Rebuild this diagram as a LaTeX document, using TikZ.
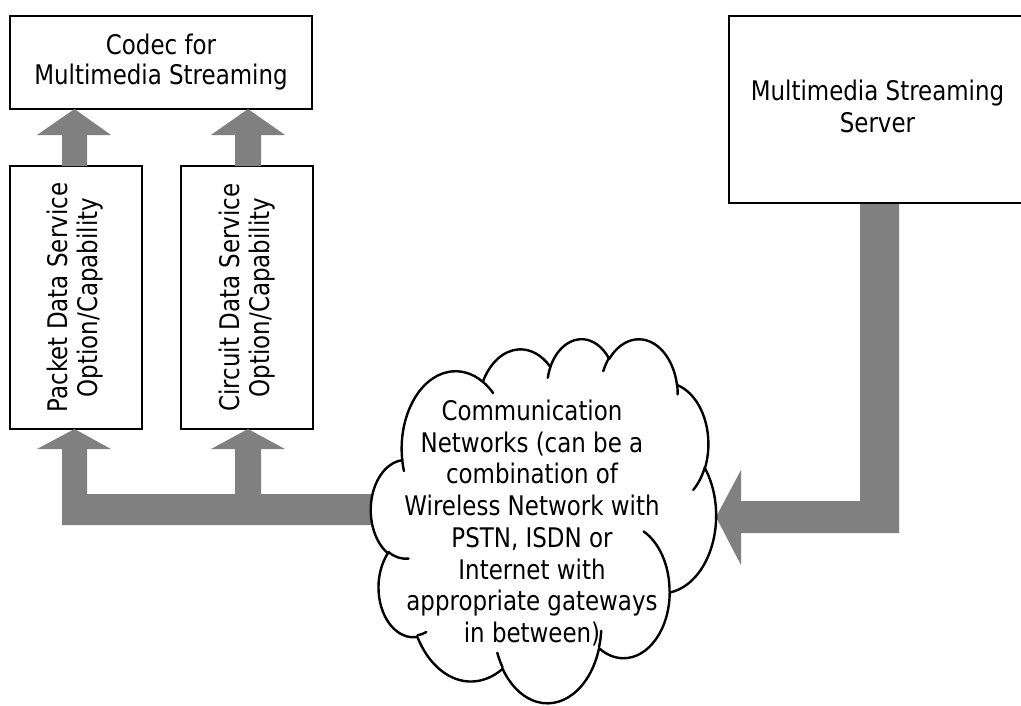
\documentclass[tikz,border=0pt]{standalone}
\usepackage{fontspec}
\setmainfont[FakeStretch=0.85]{DejaVu Sans}
\usetikzlibrary{calc}
\definecolor{arrowgray}{HTML}{808080}
\newcommand\cloudpath{}
\newcommand\hookpath{}
\newcommand\cloudseg[4]{%
  \pgfmathsetmacro\cldA{atan2(sin(#3)*#1, cos(#3)*#2)}%
  \pgfmathsetmacro\cldB{atan2(sin(#3+#4)*#1, cos(#3+#4)*#2)}%
  \pgfmathsetmacro\cldD{\cldB-\cldA}%
  \pgfmathsetmacro\cldD{\cldD<0 ? \cldD+360 : \cldD}%
  \xdef\cloudpath{\cloudpath arc[start angle=\cldA, delta angle=\cldD, x radius=#1, y radius=#2]}%
}
\newcommand\hookseg[6]{%
  \pgfmathsetmacro\cldA{atan2(sin(#5)*#3, cos(#5)*#4)}%
  \pgfmathsetmacro\cldB{atan2(sin(#5+#6)*#3, cos(#5+#6)*#4)}%
  \pgfmathsetmacro\cldD{\cldB-\cldA}%
  \pgfmathsetmacro\cldD{\cldD<0 ? \cldD+360 : \cldD}%
  \xdef\hookpath{\hookpath (#1,#2) arc[start angle=\cldA, delta angle=\cldD, x radius=#3, y radius=#4]}%
}
\tikzset{
  box/.style={draw, line width=2pt, inner sep=0pt, align=center, fill=white,
    font=\fontsize{27}{30}\selectfont},
  blk/.style={fill=arrowgray, draw=none},
  cloudline/.style={line width=2.4pt, line join=round},
  txt/.style={align=center, inner sep=0pt, font=\fontsize{27}{31.7}\selectfont}
}
\begin{document}
\begin{tikzpicture}[x=1pt, y=-1pt]
\useasboundingbox (0,0) rectangle (1021,705);
\clip (0,0) rectangle (1021,705);
% cloud geometry (computed)
\cloudseg{67.53}{91.90}{-190.4875}{123.7805}
\cloudseg{53.33}{72.67}{-144.1024}{89.9452}
\cloudseg{43.65}{59.45}{-145.8079}{99.7230}
\cloudseg{48.57}{65.95}{-130.9861}{117.2417}
\cloudseg{53.33}{72.73}{-78.7089}{109.0269}
\cloudseg{67.75}{92.20}{-46.2673}{130.2690}
\cloudseg{57.85}{78.67}{0.6250}{114.0333}
\cloudseg{67.52}{92.15}{22.4516}{115.1726}
\cloudseg{77.20}{105.43}{66.2426}{75.7110}
\cloudseg{43.60}{59.18}{-274.9421}{146.7356}
\cloudseg{43.45}{59.45}{-246.8285}{152.5189}
\hookseg{46.93}{261.77}{43.45}{59.45}{86.742}{26.4295}
\hookseg{69.28}{348.99}{43.60}{59.18}{73.6105}{11.4475}
\hookseg{164.78}{390.90}{67.52}{92.15}{137.6242}{14.0811}
\hookseg{288.27}{347.51}{67.52}{92.15}{6.4533}{15.9984}
\hookseg{341.29}{229.54}{57.85}{78.67}{-70.2924}{70.9174}
\hookseg{417.98}{153.54}{53.33}{72.73}{30.3180}{27.7515}
\hookseg{383.24}{54.26}{48.57}{65.95}{-13.7443}{14.8589}
\hookseg{290.78}{39.52}{48.57}{65.95}{-149.1815}{18.1954}
\hookseg{221.41}{47.20}{43.65}{59.45}{-163.4943}{17.6864}
\hookseg{140.00}{51.92}{67.53}{91.90}{-66.7070}{12.3194}
\hookseg{41.27}{157.89}{67.53}{91.90}{157.6544}{11.8582}

% boxes
\node[box, minimum width=302pt, minimum height=93pt] (codec) at (161,62)
  {Codec for\\Multimedia Streaming};
\node[box, rotate=90, minimum width=263pt, minimum height=132pt] (packet) at (75.5,297.5)
  {Packet Data Service\\Option/Capability};
\node[box, rotate=90, minimum width=263pt, minimum height=132pt] (circuit) at (247,297.5)
  {Circuit Data Service\\Option/Capability};
\node[box, minimum width=298pt, minimum height=187pt,
  font=\fontsize{27}{32}\selectfont] (server) at (877.5,109)
  {Multimedia Streaming\\Server\rule[-6pt]{0pt}{6pt}};

% block arrows into codec
\fill[blk] (62,166) -- (62,135) -- (37,135) -- (74.5,109) -- (111,135) -- (87,135) -- (87,166) -- cycle;
\fill[blk] (235,166) -- (235,135) -- (211,135) -- (248,109) -- (285,135) -- (261,135) -- (261,166) -- cycle;
% block arrow from cloud to packet/circuit boxes
\fill[blk] (62,525) -- (62,449) -- (37,449) -- (74.5,429) -- (111,449) -- (87,449) -- (87,494)
  -- (235,494) -- (235,449) -- (211,449) -- (248,429) -- (285,449) -- (261,449) -- (261,494)
  -- (430,494) -- (430,525) -- cycle;
% block arrow from server to cloud
\fill[blk] (860,204) -- (899,204) -- (899,533) -- (741,533) -- (741,565) -- (716,517)
  -- (741,470) -- (741,501) -- (860,501) -- cycle;

% cloud
\begin{scope}[shift={(371,338)}, x=0.79861pt, y=-0.84259pt]
  \draw[cloudline, fill=white] (39,143.7) \cloudpath -- cycle;
  \draw[cloudline, line cap=round] \hookpath;
\end{scope}
\node[txt] (cloud) at (532,523) {Communication\\Networks (can be a\\combination of\\Wireless Network with\\PSTN, ISDN or\\Internet with\\appropriate gateways\\in between)};
\end{tikzpicture}
\end{document}
